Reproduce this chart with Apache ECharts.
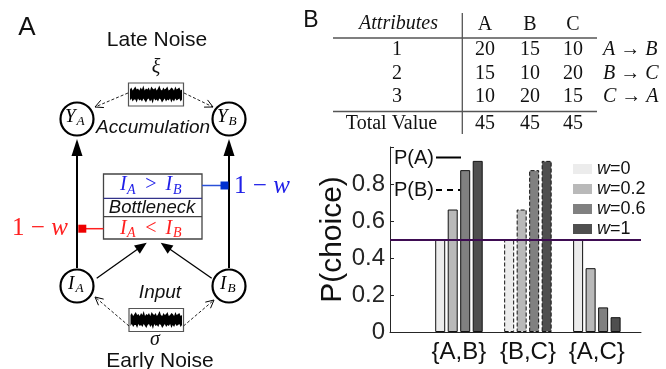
<!DOCTYPE html>
<html>
<head>
<meta charset="utf-8">
<title>P(choice)</title>
<script src="https://cdn.jsdelivr.net/npm/echarts@6/dist/echarts.min.js"></script>
</head>
<body style="margin:0;padding:0;background:#fff;">
<div id="main" style="width:666px;height:369px;"></div>
<script>
// ---- panel B bars ----
var categories = ['{A,B}', '{B,C}', '{A,C}'];
var weightNames = ['w=0', 'w=0.2', 'w=0.6', 'w=1'];
var barColors = ['#ececec', '#b9b9b9', '#808080', '#4f4f4f'];
var pW0 = [0.50, 0.50, 0.50];
var pW02 = [0.662, 0.662, 0.345];
var pW06 = [0.875, 0.875, 0.133];
var pW1 = [0.925, 0.925, 0.08];
var chanceLevel = 0.5;
var yTicks = [0, 0.2, 0.4, 0.6, 0.8];
// dashed outline where P(B) is plotted
var plotsB = [false, true, false];

// ---- attribute table ----
var attrRows = ['1', '2', '3'];
var attrA = [20, 15, 10];
var attrB = [15, 10, 20];
var attrC = [10, 20, 15];
var totalValue = [45, 45, 45];
var cycleFrom = ['A', 'B', 'C'];
var cycleTo = ['B', 'C', 'A'];

// noise trace shapes (just decoration)
var noiseUp = [2,4,1,3,5,2,3,1,4,2,6,1,3,2,4,1,5,3,2,4,1,3,6,2,1,4,2,3,5,1,2,4,3,1,5,2,3,4,1,2];
var noiseDn = [3,1,4,2,2,5,1,3,2,4,1,3,5,2,1,4,2,6,1,3,2,4,1,2,5,3,1,4,2,3,1,5,2,4,1,3,2,1,4,2];

var SANS = 'Liberation Sans, Arial, sans-serif';
var SERIF = 'Liberation Serif, Times New Roman, serif';

var chart = echarts.init(document.getElementById('main'));

function txt(x, y, text, size, o) {
    o = o || {};
    var al = o.align || 'center';
    return {
        type: 'text', x: x, y: y, z: 100, silent: true,
        style: {
            text: text, fill: o.color || '#111', fontSize: size,
            fontFamily: o.family || SANS, fontStyle: o.italic ? 'italic' : 'normal',
            align: al, textAlign: al, verticalAlign: 'middle', textVerticalAlign: 'middle',
            rich: o.rich
        }
    };
}
function ln(x1, y1, x2, y2, color, w, dash) {
    return {
        type: 'line', z: 100, silent: true,
        shape: {x1: x1, y1: y1, x2: x2, y2: y2},
        style: {stroke: color, lineWidth: w, lineDash: dash || null}
    };
}
// arrow head at (x2,y2) pointing along (x1,y1)->(x2,y2)
function head(x1, y1, x2, y2, len, half, filled, color) {
    var dx = x2 - x1, dy = y2 - y1, d = Math.sqrt(dx * dx + dy * dy);
    var ux = dx / d, uy = dy / d;
    var bx = x2 - ux * len, by = y2 - uy * len;
    var pts = [[bx - uy * half, by + ux * half], [x2, y2], [bx + uy * half, by - ux * half]];
    if (filled) {
        return {type: 'polygon', z: 101, silent: true, shape: {points: pts}, style: {fill: color}};
    }
    return {type: 'polyline', z: 101, silent: true, shape: {points: pts}, style: {stroke: color, lineWidth: 1, fill: null}};
}
function arrow(x1, y1, x2, y2, o) {
    var els = [];
    if (o.filled) {
        var dx = x2 - x1, dy = y2 - y1, d = Math.sqrt(dx * dx + dy * dy);
        els.push(ln(x1, y1, x2 - dx / d * o.len * 0.8, y2 - dy / d * o.len * 0.8, '#000', o.w));
    } else {
        els.push(ln(x1, y1, x2, y2, '#222', o.w, [3, 2]));
    }
    els.push(head(x1, y1, x2, y2, o.len, o.half, o.filled, '#000'));
    return els;
}
function noiseBox(x, y, w, h) {
    var mid = y + h / 2, n = noiseUp.length, step = (w - 3) / (n - 1);
    var pts = [];
    noiseUp.forEach(function (v, i) { pts.push([x + 1.5 + i * step, mid - 3 - v]); });
    for (var i = n - 1; i >= 0; i--) pts.push([x + 1.5 + i * step, mid + 3 + noiseDn[i]]);
    return [
        {type: 'rect', z: 100, silent: true, shape: {x: x, y: y, width: w, height: h}, style: {fill: '#fff', stroke: '#555', lineWidth: 1.2}},
        {type: 'polygon', z: 101, silent: true, shape: {points: pts}, style: {fill: '#000'}}
    ];
}
function node(cx, cy) {
    return {type: 'circle', z: 100, silent: true, shape: {cx: cx, cy: cy, r: 16.5}, style: {fill: '#fff', stroke: '#000', lineWidth: 2.2}};
}
// italic letter with subscript
function sub(xMain, xSub, y, main, s, color, size) {
    return [
        txt(xMain, y, main, size, {family: SERIF, italic: true, align: 'left', color: color}),
        txt(xSub, y + 5, s, size * 0.7, {family: SERIF, italic: true, align: 'left', color: color})
    ];
}

var BLUE = '#2020e8', RED = '#ff2020';
var mathRich = function (size, color) {
    return {
        n: {fontFamily: SERIF, fontSize: size, fill: color, color: color},
        i: {fontFamily: SERIF, fontSize: size, fontStyle: 'italic', fill: color, color: color}
    };
};

var g = [];
// panel letters
g.push(txt(27, 28, 'A', 26));
g.push(txt(311, 21, 'B', 23));

// ---- panel A diagram ----
g.push(txt(157, 40, 'Late Noise', 21));
g.push(txt(156, 68, 'ξ', 20, {family: SERIF, italic: true}));
g = g.concat(noiseBox(128.5, 83, 55, 23));
g.push(txt(153, 128, 'Accumulation', 19, {italic: true}));
g = g.concat(arrow(128, 93, 95, 107, {len: 8, half: 4, w: 1}));
g = g.concat(arrow(184, 93, 213, 107, {len: 8, half: 4, w: 1}));

// vertical pathways
g = g.concat(arrow(77, 268, 77, 139, {filled: true, len: 17, half: 5.5, w: 2}));
g = g.concat(arrow(229, 268, 229, 139, {filled: true, len: 17, half: 5.5, w: 2}));

// bottleneck box
g.push({type: 'rect', z: 100, silent: true, shape: {x: 103.5, y: 174, width: 98.5, height: 65}, style: {fill: '#fff', stroke: '#444', lineWidth: 1.3}});
g.push(ln(103.5, 198.3, 202, 198.3, '#33338a', 1.3));
g.push(ln(103.5, 216.7, 202, 216.7, '#444', 1.3));
g = g.concat(sub(120, 127, 185, 'I', 'A', BLUE, 20));
g.push(txt(151, 185, '>', 20, {family: SERIF, color: BLUE}));
g = g.concat(sub(165.5, 173, 185, 'I', 'B', BLUE, 20));
g.push(txt(152, 207.5, 'Bottleneck', 18.5, {italic: true}));
g = g.concat(sub(120, 127, 228.5, 'I', 'A', RED, 20));
g.push(txt(151, 228.5, '<', 20, {family: SERIF, color: RED}));
g = g.concat(sub(165.5, 173, 228.5, 'I', 'B', RED, 20));

// inhibition connectors
g.push(ln(202, 185.5, 221, 185.5, '#2a50d8', 1.5));
g.push({type: 'rect', z: 101, silent: true, shape: {x: 220.5, y: 181.5, width: 8, height: 8}, style: {fill: '#0030d0'}});
g.push(txt(262, 186.5, '{n|1 − }{i|w}', 25, {rich: mathRich(25, BLUE), color: BLUE}));
g.push(ln(86, 228.7, 103.5, 228.7, RED, 1.5));
g.push({type: 'rect', z: 101, silent: true, shape: {x: 78.3, y: 224.7, width: 8, height: 8}, style: {fill: '#ee0000'}});
g.push(txt(40, 228.5, '{n|1 − }{i|w}', 25, {rich: mathRich(25, RED), color: RED}));

// input to bottleneck
g = g.concat(arrow(96.7, 278.3, 146.7, 242.7, {filled: true, len: 12, half: 5, w: 1.3}));
g = g.concat(arrow(211.7, 278.3, 160.7, 242.7, {filled: true, len: 12, half: 5, w: 1.3}));

// nodes
g.push(node(77, 119), node(229, 119), node(77, 286), node(229, 286));
g = g.concat(sub(65, 76.5, 117, 'Y', 'A', '#000', 19));
g = g.concat(sub(217, 228.5, 117, 'Y', 'B', '#000', 19));
g = g.concat(sub(68, 75.5, 284, 'I', 'A', '#000', 19));
g = g.concat(sub(220, 227.5, 284, 'I', 'B', '#000', 19));

g.push(txt(160, 292.5, 'Input', 19, {italic: true}));
g = g.concat(noiseBox(129, 308.5, 54.5, 23));
g = g.concat(arrow(129, 326, 95, 297, {len: 8, half: 4, w: 1}));
g = g.concat(arrow(183.5, 326, 214, 300, {len: 8, half: 4, w: 1}));
g.push(txt(155, 340, 'σ', 20, {family: SERIF, italic: true}));
g.push(txt(160, 361, 'Early Noise', 21));

// ---- attribute table ----
var colX = [485, 530, 573];
var rowY = [50, 73.5, 97];
g.push(ln(333, 38, 597, 38, '#555', 1.3));
g.push(ln(333, 111.5, 597, 111.5, '#555', 1.3));
g.push(ln(462.3, 13, 462.3, 134, '#555', 1.3));
g.push(txt(398.5, 24, 'Attributes', 20, {family: SERIF, italic: true}));
['A', 'B', 'C'].forEach(function (h, j) { g.push(txt(colX[j], 25, h, 20, {family: SERIF})); });
attrRows.forEach(function (r, i) {
    g.push(txt(397, rowY[i], r, 20, {family: SERIF}));
    [attrA, attrB, attrC].forEach(function (col, j) {
        g.push(txt(colX[j], rowY[i], String(col[i]), 20, {family: SERIF}));
    });
    g.push(txt(603, rowY[i], '{i|' + cycleFrom[i] + '} → {i|' + cycleTo[i] + '}', 20,
        {family: SERIF, align: 'left', rich: mathRich(20, '#111')}));
});
g.push(txt(391.5, 124, 'Total Value', 20, {family: SERIF}));
totalValue.forEach(function (v, j) { g.push(txt(colX[j], 124, String(v), 20, {family: SERIF})); });

// line style key inside plot
g.push(txt(394, 158.5, 'P(A)', 20, {align: 'left'}));
g.push(ln(436, 157.5, 461, 157.5, '#000', 2));
g.push(txt(394, 190.5, 'P(B)', 20, {align: 'left'}));
g.push(ln(436, 190, 460, 190, '#000', 2, [6, 5]));

var pSeries = [pW0, pW02, pW06, pW1];
var series = pSeries.map(function (vals, k) {
    var s = {
        name: weightNames[k],
        type: 'bar',
        barWidth: 10,
        barGap: '25%',
        itemStyle: {color: barColors[k], borderColor: '#111', borderWidth: 1},
        data: vals.map(function (v, i) {
            return {value: [i + 1, v], itemStyle: {borderType: plotsB[i] ? 'dashed' : 'solid'}};
        })
    };
    if (k === 0) {
        s.markLine = {
            silent: true, symbol: 'none', label: {show: false},
            lineStyle: {color: '#3e0c52', width: 1.8, type: 'solid'},
            data: [{yAxis: chanceLevel}]
        };
    }
    return s;
});

chart.setOption({
    animation: false,
    backgroundColor: '#fff',
    grid: {left: 390, right: 25, top: 147, bottom: 37, containLabel: false, outerBoundsMode: 'none'},
    legend: {
        orient: 'vertical', left: 568, top: 155,
        itemWidth: 19, itemHeight: 10, itemGap: 2, icon: 'rect',
        selectedMode: false,
        itemStyle: {borderWidth: 0},
        data: weightNames,
        formatter: function (n) { return '{i|w}{n|' + n.slice(1) + '}'; },
        textStyle: {
            fontSize: 18, color: '#111', fontFamily: SANS,
            rich: {
                i: {fontSize: 18, fontStyle: 'italic', fontFamily: SANS, color: '#111'},
                n: {fontSize: 18, fontFamily: SANS, color: '#111'}
            }
        }
    },
    xAxis: {
        type: 'value', min: 0, max: 3.64, interval: 1,
        axisLine: {show: true, onZero: false, lineStyle: {color: '#262626', width: 1}},
        axisTick: {show: false},
        splitLine: {show: false},
        axisLabel: {
            fontSize: 24, color: '#111', fontFamily: SANS, margin: 8, showMaxLabel: false,
            formatter: function (v) { return categories[Math.round(v) - 1] && Math.abs(v - Math.round(v)) < 1e-6 ? categories[Math.round(v) - 1] : ''; }
        }
    },
    yAxis: {
        type: 'value', min: 0, max: 1, interval: 0.2,
        name: 'P(choice)', nameLocation: 'middle', nameGap: 40,
        nameTextStyle: {fontSize: 30, color: '#111', fontFamily: SANS},
        axisLine: {show: true, lineStyle: {color: '#262626', width: 1}},
        axisTick: {show: true, inside: true, length: 4, lineStyle: {color: '#262626'}},
        splitLine: {show: false},
        axisLabel: {
            fontSize: 24, color: '#262626', fontFamily: SANS, margin: 5,
            formatter: function (v) {
                var t = yTicks.filter(function (y) { return Math.abs(y - v) < 1e-6; });
                return t.length ? String(t[0]) : '';
            }
        }
    },
    series: series,
    graphic: {elements: g}
});
</script>
</body>
</html>
